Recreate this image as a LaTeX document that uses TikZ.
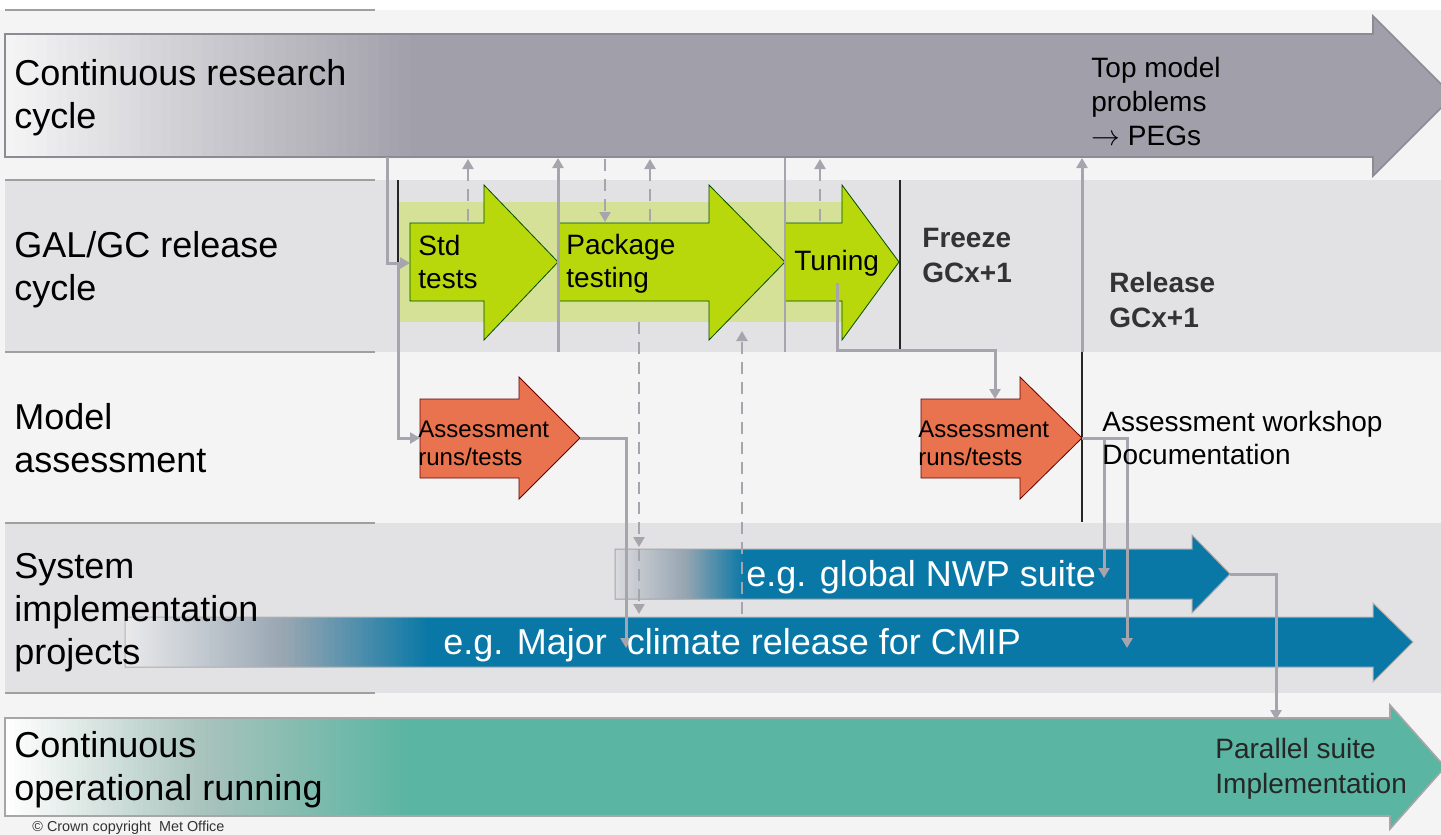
\documentclass[tikz,border=0pt]{standalone}
\usepackage{fontspec}
\setmainfont{Liberation Sans}
\usetikzlibrary{arrows.meta}

\definecolor{paper}{HTML}{F4F4F5}
\definecolor{bandgrey}{HTML}{E2E2E4}
\definecolor{resgrey}{HTML}{A19FA9}
\definecolor{resline}{HTML}{8C8B94}
\definecolor{limegreen}{HTML}{B8D80C}
\definecolor{palegreen}{HTML}{D4E196}
\definecolor{assorange}{HTML}{E8734E}
\definecolor{suiteblue}{HTML}{0A78A6}
\definecolor{opteal}{HTML}{5AB5A2}
\definecolor{conngrey}{HTML}{A6A5AE}
\definecolor{darktext}{HTML}{333333}
\definecolor{fadegrey}{HTML}{DADADD}
\definecolor{climfade}{HTML}{E9E9EB}
\definecolor{bluemid}{HTML}{98A6B2}
\definecolor{tealmid}{HTML}{A6C2BB}

% left-to-right fade made of thin strips: x0, x1, y0, y1, from, to
\newcommand{\fadestrips}[6]{%
  \foreach \k in {0,...,39}{
    \pgfmathsetmacro{\xa}{#1+(#2-#1)/40*\k}
    \pgfmathsetmacro{\xb}{#1+(#2-#1)/40*(\k+1)+0.8}
    \pgfmathsetmacro{\mix}{100/39*\k}
    \fill[#6!\mix!#5] (\xa,#3) rectangle (\xb,#4);
  }}

\tikzset{
  rowlabel/.style={anchor=base west, align=left, inner sep=0pt,
    font=\fontsize{18}{21.5}\selectfont},
  steplabel/.style={anchor=base west, align=left, inner sep=0pt,
    font=\fontsize{14}{16.5}\selectfont},
  runlabel/.style={anchor=base west, align=left, inner sep=0pt,
    font=\fontsize{12}{14}\selectfont},
  sepline/.style={draw=gray!75, line width=0.8pt},
  blackline/.style={draw=black!85, line width=0.6pt},
  conn/.style={draw=conngrey, line width=1.5pt, -{Triangle[length=5pt,width=5.5pt]}},
  dconn/.style={draw=conngrey, line width=1.2pt, dash pattern=on 6pt off 4pt,
    -{Triangle[length=5pt,width=5.5pt]}},
  limearrow/.style={fill=limegreen, draw=black!70!green, line width=0.4pt},
  assarrow/.style={fill=assorange, draw=black!60!red, line width=0.4pt},
}

\begin{document}
\begin{tikzpicture}[x=0.5pt,y=-0.5pt]
\useasboundingbox (0,0) rectangle (1441,835);
\clip (0,0) rectangle (1441,835);

% rows
\fill[white] (0,0) rectangle (1441,835);
\fill[paper] (0,10) rectangle (1441,835);
\fill[bandgrey] (5,180) rectangle (1441,352);
\fill[bandgrey] (5,523) rectangle (1441,693);
\foreach \y in {10,180,352,523,693}
  \draw[sepline] (5,\y) -- (375,\y);

% research cycle arrow
\fill[resgrey] (5,34) -- (1373,34) -- (1373,16) -- (1453,96) -- (1373,176) -- (1373,157) -- (5,157) -- cycle;
\fadestrips{5}{420}{34}{157}{paper}{resgrey}
\draw[resline, line width=0.8pt] (5,34) -- (1373,34) -- (1373,16) -- (1453,96) -- (1373,176) -- (1373,157) -- (5,157) -- cycle;

% operational running arrow
\fill[opteal] (5,718) -- (1390,718) -- (1390,705) -- (1445,767) -- (1390,829) -- (1390,816) -- (5,816) -- cycle;
\fadestrips{5}{210}{718}{816}{white}{tealmid}
\fadestrips{209}{410}{718}{816}{tealmid}{opteal}
\draw[gray!70, line width=0.8pt] (5,718) -- (1390,718) -- (1390,705) -- (1445,767) -- (1390,829) -- (1390,816) -- (5,816) -- cycle;

% climate release arrow
\fill[suiteblue] (125,617) -- (1373,617) -- (1373,603) -- (1413,642) -- (1373,682) -- (1373,667) -- (125,667) -- cycle;
\fadestrips{125}{285}{617}{667}{climfade}{bluemid}
\fadestrips{284}{430}{617}{667}{bluemid}{suiteblue}
\draw[gray!60, line width=0.5pt] (125,617) -- (1373,617) -- (1373,603) -- (1413,642) -- (1373,682) -- (1373,667) -- (125,667) -- cycle;

% NWP suite arrow
\fill[suiteblue] (615,549) -- (1192,549) -- (1192,535) -- (1230,574) -- (1192,613) -- (1192,599) -- (615,599) -- cycle;
\fadestrips{615}{685}{549}{599}{fadegrey}{bluemid}
\fadestrips{684}{745}{549}{599}{bluemid}{suiteblue}
\draw[gray!70, line width=0.5pt] (615,549) -- (1192,549) -- (1192,535) -- (1230,574) -- (1192,613) -- (1192,599) -- (615,599) -- cycle;

% release cycle steps
\fill[palegreen] (399,202) rectangle (842,322);
\draw[blackline] (398,180) -- (398,352);
\draw[blackline] (900,180) -- (900,352);
\draw[limearrow] (410,223) -- (484,223) -- (484,185) -- (558,262) -- (484,340) -- (484,301) -- (410,301) -- cycle;
\draw[limearrow] (558,223) -- (709,223) -- (709,185) -- (785,262) -- (709,340) -- (709,301) -- (558,301) -- cycle;
\draw[limearrow] (785,223) -- (842,223) -- (842,185) -- (899,262) -- (842,340) -- (842,301) -- (785,301) -- cycle;

% assessment runs
\draw[assarrow] (420,399) -- (519,399) -- (519,377) -- (580,438) -- (519,499) -- (519,478) -- (420,478) -- cycle;
\draw[assarrow] (921,399) -- (1020,399) -- (1020,377) -- (1082,438) -- (1020,499) -- (1020,478) -- (921,478) -- cycle;

% connector ends
\coordinate (resout) at (387,157);
\coordinate (split) at (398,263);
\coordinate (stdin) at (410,263);
\coordinate (ass1in) at (420,438);
\coordinate (ass1tip) at (580,438);
\coordinate (climin1) at (626,648);
\coordinate (pkgfoot) at (558,352);
\coordinate (pkgup) at (558,158);
\coordinate (tuneout) at (837,283);
\coordinate (tunebend) at (995,350);
\coordinate (ass2in) at (995,399);
\coordinate (ass2tip) at (1082,438);
\coordinate (relfoot) at (1082,352);
\coordinate (resin) at (1082,158);
\coordinate (nwpsplit) at (1104,438);
\coordinate (nwpin) at (1104,578);
\coordinate (climin2) at (1127,648);
\coordinate (nwptip) at (1230,574);
\coordinate (opin) at (1276,720);

\draw[conn] (resout) |- (stdin);
\draw[conn] (split) |- (ass1in);
\draw[conn] (ass1tip) -| (climin1);
\draw[conn] (pkgfoot) -- (pkgup);
\draw[draw=conngrey, line width=0.8pt] (785,158) -- (785,352);
\draw[conn] (tuneout) |- (tunebend) -- (ass2in);
\draw[conn] (relfoot) -- (resin);
\draw[blackline] (1082,352) -- (1082,522);
\draw[conn] (ass2tip) -| (climin2);
\draw[conn] (nwpsplit) -- (nwpin);
\draw[conn] (nwptip) -| (opin);

% feedback
\foreach \x in {468,650,820}
  \draw[dconn] (\x,221) -- (\x,159);
\draw[dconn] (605,159) -- (605,222);
\draw[dconn] (639,322) -- (639,547);
\draw[dconn] (639,549) -- (639,614);
\draw[dconn] (742,614) -- (742,331);

% texts (anchored at the last line's baseline)
\node[rowlabel] (reslab) at (14,128) {Continuous research\\cycle};
\node[rowlabel] (gallab) at (14,300) {GAL/GC release\\cycle};
\node[rowlabel] (asslab) at (14,472) {Model\\assessment};
\node[rowlabel] (syslab) at (14,664) {System\\implementation\\projects};
\node[rowlabel] (oplab) at (14,800) {Continuous\\operational running};
\node[steplabel, font=\fontsize{14}{17}\selectfont] (peglab) at (1091,145) {Top model\\problems\\$\rightarrow$ PEGs};
\node[steplabel] (stdlab) at (418,288) {Std\\tests};
\node[steplabel] (pkglab) at (566,287) {Package\\testing};
\node[steplabel] (tunelab) at (794,270) {Tuning};
\node[steplabel, font=\bfseries\fontsize{14}{17.5}\selectfont, text=darktext] (frzlab) at (922,282) {Freeze\\GCx+1};
\node[steplabel, font=\bfseries\fontsize{14}{17.5}\selectfont, text=darktext] (rellab) at (1109,327) {Release\\GCx+1};
\node[runlabel] (run1lab) at (418,465) {Assessment\\runs/tests};
\node[runlabel] (run2lab) at (918,465) {Assessment\\runs/tests};
\node[steplabel] (wslab) at (1102,464) {Assessment workshop\\Documentation};
\node[rowlabel, text=white] (nwplab) at (746,586) {e.g. global NWP suite};
\node[rowlabel, text=white] (climlab) at (443,654) {e.g. Major\ \ climate release for CMIP};
\node[steplabel, font=\fontsize{14}{17.5}\selectfont, text=black!85] (parlab) at (1215,793) {Parallel suite\\Implementation};
\node[anchor=base west, inner sep=0pt, font=\fontsize{7.2}{8}\selectfont, text=darktext] (copylab) at (32,831) {\textcopyright\ Crown copyright\ \ Met Office};
\end{tikzpicture}
\end{document}
